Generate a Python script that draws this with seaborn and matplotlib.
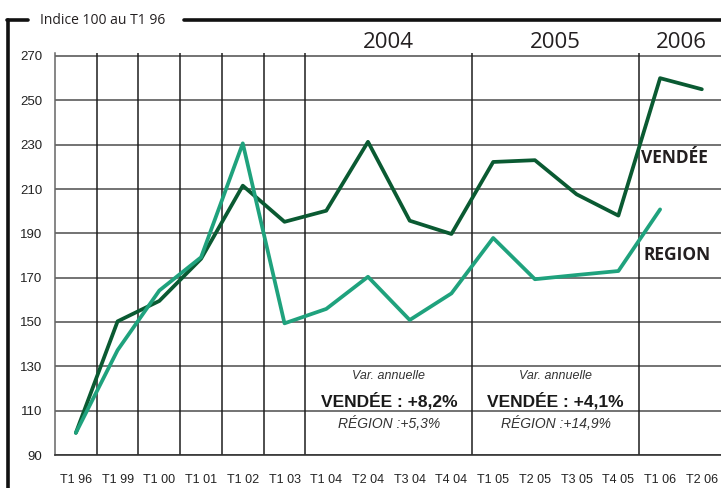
import matplotlib
matplotlib.use("Agg")
import matplotlib.pyplot as plt
import seaborn as sns
import pandas as pd
import numpy as np
from matplotlib.lines import Line2D

# ---- data ----
quarters = ["T1 96", "T1 99", "T1 00", "T1 01", "T1 02", "T1 03", "T1 04", "T2 04",
            "T3 04", "T4 04", "T1 05", "T2 05", "T3 05", "T4 05", "T1 06", "T2 06"]
vendee = [100, 150.3, 159.5, 178.5, 211.5, 195.2, 200.2, 231.3,
          195.7, 189.7, 222.2, 223.0, 207.6, 198.0, 260.0, 255.0]
region = [100, 137.3, 164.2, 179.2, 230.6, 149.4, 155.9, 170.4,
          150.9, 162.9, 187.9, 169.3, 171.2, 173.0, 200.8, None]
series_names = ["VENDÉE", "REGION"]
y_ticks = [90, 110, 130, 150, 170, 190, 210, 230, 250, 270]
year_labels = ["2004", "2005", "2006"]
var_title = "Var. annuelle"
var_vendee = ["VENDÉE : +8,2%", "VENDÉE : +4,1%"]
var_region = ["RÉGION :+5,3%", "RÉGION :+14,9%"]
unit_label = "Indice 100 au T1 96"

rows = []
for i, q in enumerate(quarters):
    rows.append({"pos": i, "quarter": q, "serie": series_names[0], "value": vendee[i]})
    if region[i] is not None:
        rows.append({"pos": i, "quarter": q, "serie": series_names[1], "value": region[i]})
df = pd.DataFrame(rows)

sns.set_style("white")
plt.rcParams["font.family"] = ["Liberation Sans", "DejaVu Sans"]

W, H = 721, 488
fig = plt.figure(figsize=(W / 100, H / 100), dpi=100)

# pixel geometry
x0, x_right = 55, 722.7
y_bot, y_top = 455, 53
px_per_unit = (455 - 56) / 180.0
ax = fig.add_axes([x0 / W, (H - y_bot) / H, (x_right - x0) / W, (y_bot - y_top) / H])

colors = {"VENDÉE": "#0a5a32", "REGION": "#1fa27d"}
sns.lineplot(data=df, x="pos", y="value", hue="serie", hue_order=series_names,
             palette=colors, linewidth=2.7, legend=False, ax=ax,
             estimator=None, sort=False, zorder=3)

ax.set_xlim(-0.5, 15.5)
ax.set_ylim(90, 90 + (y_bot - y_top) / px_per_unit)

# horizontal grid
ax.set_yticks(y_ticks)
ax.set_yticklabels([str(v) for v in y_ticks], fontsize=9.5, color="#222222")
ax.yaxis.grid(True, color="#4d4d4d", linewidth=1.1, zorder=1)
ax.tick_params(axis="y", length=5, width=1, color="#555555", pad=4, direction="out")

# x ticks: marks at boundaries, labels at centres
ax.set_xticks(np.arange(-0.5, 16, 1.0))
ax.set_xticklabels([])
ax.set_xticks(np.arange(len(quarters)), minor=True)
ax.set_xticklabels(quarters, minor=True, fontsize=9, color="#222222")
ax.tick_params(axis="x", which="major", length=6, width=1, color="#333333", direction="out")
ax.tick_params(axis="x", which="minor", length=0, pad=14)
ax.xaxis.grid(False)
ax.set_xlabel("")
ax.set_ylabel("")

# vertical separators
for b in [0.5, 1.5, 2.5, 3.5, 4.5, 5.5, 9.5, 13.5]:
    ax.axvline(b, color="#1e1e1e", linewidth=1.1, zorder=2)

for s in ["top", "right"]:
    ax.spines[s].set_visible(False)
ax.spines["left"].set_color("#666666")
ax.spines["left"].set_linewidth(1.1)
ax.spines["bottom"].set_color("#333333")
ax.spines["bottom"].set_linewidth(1.2)

# year labels
for xpos, lab in zip([7.5, 11.5, 14.5], year_labels):
    ax.text(xpos, 276.3, lab, ha="center", va="center", fontsize=16,
            family=["Open Sans", "DejaVu Sans"], color="#231f20", clip_on=False)

# annual variation notes
for xpos, v, r in zip([7.5, 11.5], var_vendee, var_region):
    ax.text(xpos, 125.6, var_title, ha="center", va="center", fontsize=9,
            style="italic", color="#333333")
    ax.text(xpos, 114.6, v, ha="center", va="center", fontsize=12.5,
            weight="bold", color="#1a1a1a")
    ax.text(xpos, 104.4, r, ha="center", va="center", fontsize=10,
            style="italic", color="#333333")

# series labels
ax.text(13.55, 224.0, series_names[0], ha="left", va="center", fontsize=12.5,
        weight="bold", family=["Open Sans", "DejaVu Sans"], color="#231f20")
ax.text(13.6, 180.2, series_names[1], ha="left", va="center", fontsize=12.5,
        weight="bold", family=["Open Sans", "DejaVu Sans"], color="#231f20")

# outer frame (fieldset style)
def fx(px):
    return px / W

def fy(py):
    return 1 - py / H

lw_frame = 2.6
fig.add_artist(Line2D([fx(8), fx(8)], [fy(20), fy(490)], color="#111111", lw=lw_frame))
fig.add_artist(Line2D([fx(7), fx(28)], [fy(20), fy(20)], color="#111111", lw=lw_frame))
fig.add_artist(Line2D([fx(184), fx(722)], [fy(20), fy(20)], color="#111111", lw=lw_frame))
fig.text(fx(40), fy(20), unit_label, ha="left", va="center", fontsize=10,
         family=["Open Sans", "DejaVu Sans"], color="#231f20")

fig.savefig("out.png", dpi=100, facecolor="white")
